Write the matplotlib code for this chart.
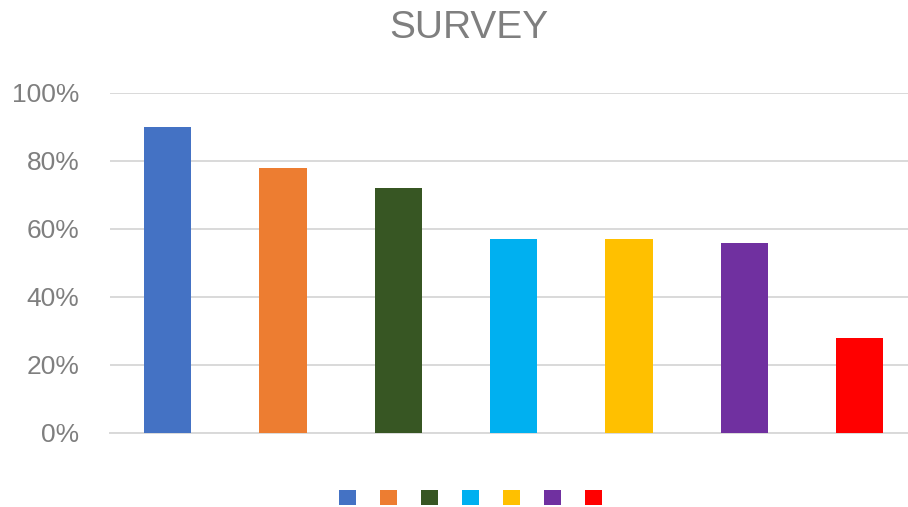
import matplotlib
matplotlib.use('Agg')
import matplotlib.pyplot as plt
from matplotlib.patches import Patch
from matplotlib.ticker import PercentFormatter

plt.rcParams['font.family'] = ['Liberation Sans', 'DejaVu Sans']

# survey results (fraction of respondents)
categories = ['A', 'B', 'C', 'D', 'E', 'F', 'G']
values = [0.90, 0.78, 0.72, 0.57, 0.57, 0.56, 0.28]
colors = ['#4472C4', '#ED7D31', '#375623', '#00B0F0', '#FFC000', '#7030A0', '#FF0000']
yticks = [0, 0.2, 0.4, 0.6, 0.8, 1.0]

fig = plt.figure(figsize=(9.08, 5.07), dpi=100)
ax = fig.add_axes([0.1211, 0.146, 0.8789, 0.6706])

x = list(range(len(categories)))
ax.bar(x, values, width=0.41, color=colors, zorder=3)

ax.set_ylim(0, 1.0)
ax.set_xlim(-0.5, 6.42)
ax.set_yticks(yticks)
ax.yaxis.set_major_formatter(PercentFormatter(1.0, decimals=0))
ax.set_xticks([])
ax.tick_params(axis='y', length=0, pad=22, labelsize=19, labelcolor='#7f7f7f')
ax.grid(axis='y', color='#d9d9d9', linewidth=1.4, zorder=0)
for s in ['top', 'right', 'left']:
    ax.spines[s].set_visible(False)
ax.spines['bottom'].set_color('#d9d9d9')
ax.spines['bottom'].set_linewidth(1.4)

fig.text(0.516, 0.945, 'SURVEY', ha='center', va='center', fontsize=28, color='#7f7f7f')

handles = [Patch(facecolor=c) for c in colors]
fig.legend(handles, [''] * len(handles), loc='center', ncol=len(handles),
           bbox_to_anchor=(470.5 / 908, 1 - 498 / 507), frameon=False,
           fontsize=12.2, handlelength=1, handleheight=1, handletextpad=0,
           columnspacing=1.42, borderpad=0)

fig.savefig('out.png', dpi=100)
